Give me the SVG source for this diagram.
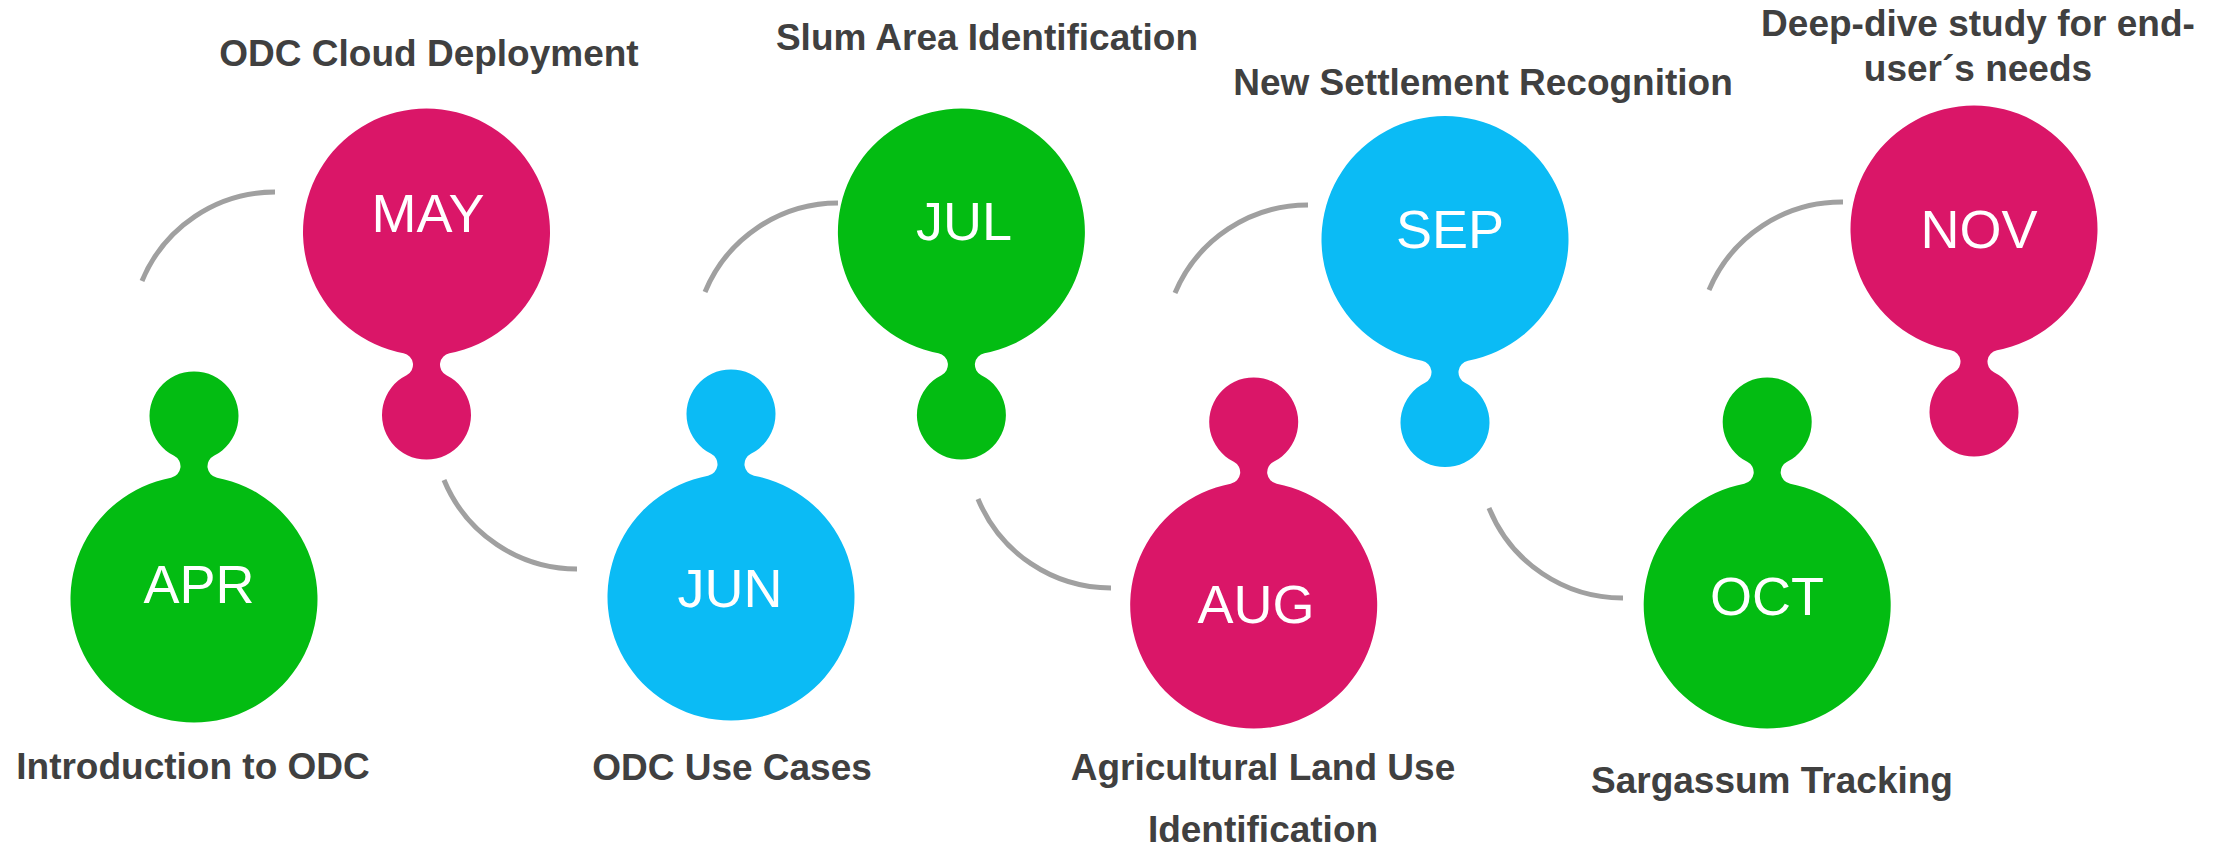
<svg xmlns="http://www.w3.org/2000/svg" xmlns:xlink="http://www.w3.org/1999/xlink" width="2229" height="847" viewBox="0 0 2229 847">
  <style>
    .month { font-family: "Liberation Sans", Arial, sans-serif; font-size: 54px; fill: #ffffff; text-anchor: middle; }
    .label { font-family: "Liberation Sans", Arial, sans-serif; font-size: 37px; font-weight: bold; fill: #404040; text-anchor: middle; }
    .conn { fill: none; stroke: #a0a0a0; stroke-width: 5; }
    .magenta { fill: #da1668; }
    .green { fill: #03bc12; }
    .blue { fill: #0bbbf5; }
  </style>
  <defs>
    <path id="blob" d="M 22.98 121.34 A 123.5 123.5 0 1 0 -22.98 121.34 A 11.65 11.65 0 0 1 -19.93 143.21 A 44.5 44.5 0 1 0 19.93 143.21 A 11.65 11.65 0 0 1 22.98 121.34 Z"/>
  </defs>
  <rect width="2229" height="847" fill="#ffffff"/>

  <g id="connectors">
    <path class="conn" d="M 142 281 A 144 144 0 0 1 275 192"/>
    <path class="conn" d="M 444 480 A 144 144 0 0 0 577 569"/>
    <path class="conn" d="M 705 292 A 144 144 0 0 1 838 203"/>
    <path class="conn" d="M 978 499 A 144 144 0 0 0 1111 588"/>
    <path class="conn" d="M 1175 293 A 144 144 0 0 1 1308 205"/>
    <path class="conn" d="M 1489 508 A 144 144 0 0 0 1623 598"/>
    <path class="conn" d="M 1709 290 A 144 144 0 0 1 1843 202"/>
  </g>

  <g id="apr">
    <use xlink:href="#blob" class="green" transform="translate(194,599) scale(1,-1)"/>
    <text class="month" x="199" y="603">APR</text>
    <text class="label" x="193" y="779">Introduction to ODC</text>
  </g>
  <g id="may">
    <use xlink:href="#blob" class="magenta" transform="translate(426.5,232)"/>
    <text class="month" x="428" y="232">MAY</text>
    <text class="label" x="429" y="66">ODC Cloud Deployment</text>
  </g>
  <g id="jun">
    <use xlink:href="#blob" class="blue" transform="translate(731,597) scale(1,-1)"/>
    <text class="month" x="730" y="607">JUN</text>
    <text class="label" x="732" y="780">ODC Use Cases</text>
  </g>
  <g id="jul">
    <use xlink:href="#blob" class="green" transform="translate(961.4,232)"/>
    <text class="month" x="964" y="240">JUL</text>
    <text class="label" x="987" y="50">Slum Area Identification</text>
  </g>
  <g id="aug">
    <use xlink:href="#blob" class="magenta" transform="translate(1253.7,605) scale(1,-1)"/>
    <text class="month" x="1256" y="623">AUG</text>
    <text class="label" x="1263" y="780">Agricultural Land Use</text>
    <text class="label" x="1263" y="842">Identification</text>
  </g>
  <g id="sep">
    <use xlink:href="#blob" class="blue" transform="translate(1445,239.5)"/>
    <text class="month" x="1450" y="248">SEP</text>
    <text class="label" x="1483" y="95">New Settlement Recognition</text>
  </g>
  <g id="oct">
    <use xlink:href="#blob" class="green" transform="translate(1767.2,605) scale(1,-1)"/>
    <text class="month" x="1767" y="615">OCT</text>
    <text class="label" x="1772" y="793">Sargassum Tracking</text>
  </g>
  <g id="nov">
    <use xlink:href="#blob" class="magenta" transform="translate(1974,229)"/>
    <text class="month" x="1979" y="248">NOV</text>
    <text class="label" x="1978" y="36">Deep-dive study for end-</text>
    <text class="label" x="1978" y="81">user´s needs</text>
  </g>
</svg>
